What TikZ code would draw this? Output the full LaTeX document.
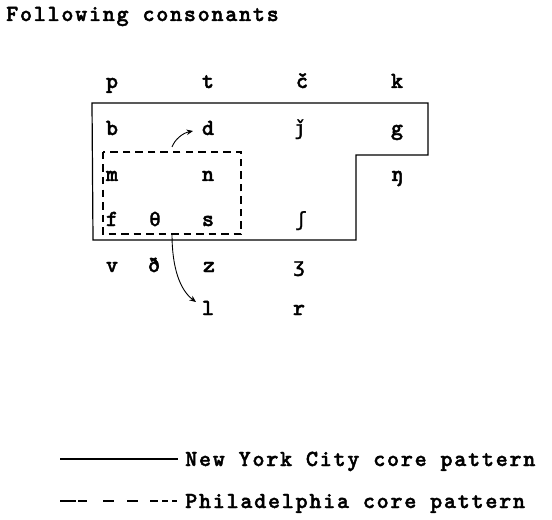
\documentclass[tikz,border=0pt]{standalone}
\usepackage{fontspec}
\newfontfamily\tw[Extension=.otf, UprightFont=lmmonolt10-bold, LetterSpace=7.5, FakeBold=1.8]{lmmonolt10-bold}
\newfontfamily\ipa[FakeBold=1.6]{DejaVu Sans Mono}
\usetikzlibrary{arrows.meta}
\begin{document}
\begin{tikzpicture}[x=1bp,y=-1bp,
  txt/.style={font=\tw\fontsize{23bp}{26bp}\selectfont, inner sep=0pt},
  ph/.style={txt, anchor=base},
  ip/.style={font=\ipa\fontsize{19.5bp}{22bp}\selectfont, inner sep=0pt, anchor=base},
  nyc/.style={line width=1.2bp},
  phl/.style={line width=1.1bp, dash pattern=on 7.5bp off 5bp},
  arr/.style={line width=0.9bp, -{Stealth[length=6.5bp,width=5.5bp]}}]
\useasboundingbox (0,0) rectangle (552,520);
% title
\node[txt, anchor=base west] (title) at (6,21) {Following consonants};
% consonant grid
\node[ph] (p) at (112,88) {p};
\node[ph] (t) at (208,88) {t};
\node[ph] (ch) at (302,88) {č};
\node[ph] (k) at (397,88) {k};
\node[ph] (b) at (112,135) {b};
\node[ph] (d) at (208,135) {d};
\node[ip] (j) at (300,135) {ǰ};
\node[ph] (g) at (397,135) {g};
\node[ph] (m) at (112,181) {m};
\node[ph] (n) at (208,181) {n};
\node[ph] (ng) at (397,181) {ŋ};
\node[ph] (f) at (112,226) {f};
\node[ip] (th) at (155,226) {θ};
\node[ph] (s) at (208,226) {s};
\node[ip] (sh) at (301,226) {ʃ};
\node[ph] (v) at (112,272) {v};
\node[ph] (dh) at (154,272) {ð};
\node[ph] (z) at (209,272) {z};
\node[ip] (zh) at (299,272) {ʒ};
\node[ph] (l) at (208,315) {l};
\node[ph] (r) at (299,315) {r};
% New York City core pattern
\draw[nyc] (92,103) -- (428,103) -- (428,155) -- (356,155) -- (356,240) -- (93,240) -- cycle;
% Philadelphia core pattern
\draw[phl] (103,152) rectangle (241,234);
% arrows
\coordinate (a1) at (172,147);
\coordinate (a1e) at (193,131);
\coordinate (a2) at (172,234);
\coordinate (a2e) at (196,302);
\draw[arr] (a1) .. controls (175,139) and (183,133) .. (a1e);
\draw[arr] (a2) .. controls (172,268) and (180,290) .. (a2e);
% legend
\coordinate (l1a) at (60,459);
\coordinate (l1b) at (178,459);
\coordinate (l2a) at (60,501);
\coordinate (l2b) at (178,501);
\draw[nyc] (l1a) -- (l1b);
\draw[line width=1.2bp, dash pattern=on 16bp off 2bp on 9bp off 16bp on 11bp off 13bp on 11bp off 12bp on 8bp off 4bp on 6bp off 4bp on 5bp off 20bp] (l2a) -- (l2b);
\node[txt, anchor=base west] (leg1) at (185,466) {New York City core pattern};
\node[txt, anchor=base west] (leg2) at (185,508) {Philadelphia core pattern};
\end{tikzpicture}
\end{document}
